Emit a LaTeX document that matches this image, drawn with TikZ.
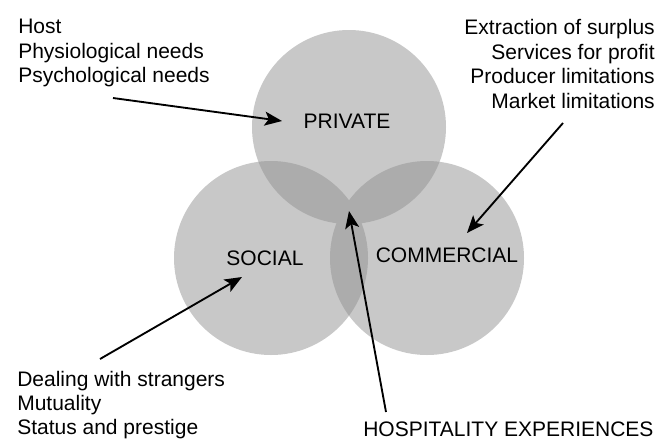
\documentclass[tikz,border=0pt]{standalone}
\usepackage{fontspec}
\setmainfont{Liberation Sans}
\usetikzlibrary{arrows.meta}
\definecolor{disc}{RGB}{200,200,200}
\definecolor{lens}{RGB}{172,172,172}
\begin{document}
\begin{tikzpicture}[x=0.75pt, y=-0.75pt,
	every node/.style={font=\fontsize{15.75}{18.4}\selectfont, inner sep=0pt},
	pointer/.style={-{Stealth[length=13pt, width=10.5pt, inset=3pt]}, line width=1.4pt}]
	\useasboundingbox (0,0) rectangle (666,440);
	% circle centres
	\coordinate (priv) at (349,127);
	\coordinate (soc) at (271,258);
	\coordinate (comm) at (427,258);
	\fill [disc] (priv) circle (97);
	\fill [disc] (soc) circle (97);
	\fill [disc] (comm) circle (97);
	% overlaps
	\begin{scope}
		\clip (priv) circle (97);
		\fill [lens] (soc) circle (97);
		\fill [lens] (comm) circle (97);
	\end{scope}
	\begin{scope}
		\clip (soc) circle (97);
		\fill [lens] (comm) circle (97);
	\end{scope}
	% labels
	\node (private) at (347,121) {PRIVATE};
	\node (social) at (265,258) {SOCIAL};
	\node (commercial) at (447,255) {COMMERCIAL};
	\node [anchor=north west, align=left] (hostnotes) at (18,19) {Host\\Physiological needs\\Psychological needs};
	\node [anchor=north east, align=right] (commnotes) at (655,19) {Extraction of surplus\\Services for profit\\Producer limitations\\Market limitations};
	\node [anchor=north west, align=left, font=\fontsize{15.75}{18.1}\selectfont] (socnotes) at (17,371) {Dealing with strangers\\Mutuality\\Status and prestige};
	\node [anchor=base west] (hosp) at (363,436) {HOSPITALITY EXPERIENCES};
	% arrows
	\coordinate (a1) at (113,98);
	\coordinate (b1) at (282,121);
	\coordinate (a2) at (563,123);
	\coordinate (b2) at (467,233);
	\coordinate (a3) at (100,359);
	\coordinate (b3) at (242,277);
	\coordinate (a4) at (386,412);
	\coordinate (b4) at (349,211);
	\draw [pointer] (a1) -- (b1);
	\draw [pointer] (a2) -- (b2);
	\draw [pointer] (a3) -- (b3);
	\draw [pointer] (a4) -- (b4);
\end{tikzpicture}
\end{document}
